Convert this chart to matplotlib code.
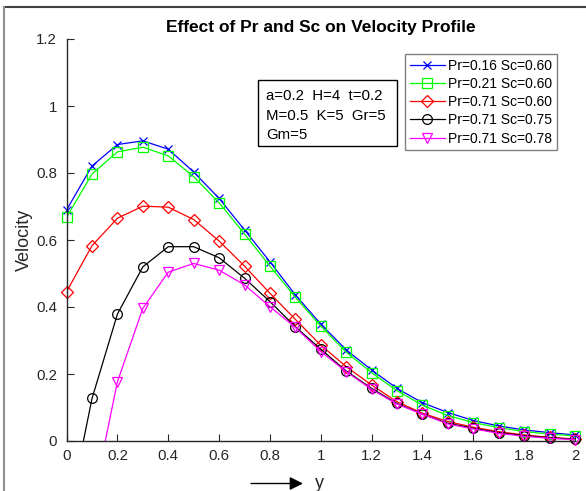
import numpy as np
import matplotlib
matplotlib.use("Agg")
import matplotlib.pyplot as plt
from matplotlib.lines import Line2D
from matplotlib.patches import Rectangle

plt.rcParams['font.family'] = ['Liberation Sans', 'DejaVu Sans']

# podaci ocitani sa slike
y_os = [0.0, 0.1, 0.2, 0.3, 0.4, 0.5, 0.6, 0.7, 0.8, 0.9, 1.0,
        1.1, 1.2, 1.3, 1.4, 1.5, 1.6, 1.7, 1.8, 1.9, 2.0]

v_pr016_sc060 = [0.690, 0.821, 0.885, 0.896, 0.871, 0.803, 0.724, 0.630, 0.535, 0.436, 0.349,
                 0.272, 0.212, 0.157, 0.114, 0.085, 0.061, 0.045, 0.033, 0.025, 0.018]
v_pr021_sc060 = [0.668, 0.797, 0.863, 0.877, 0.851, 0.789, 0.711, 0.618, 0.522, 0.429, 0.343,
                 0.265, 0.204, 0.150, 0.107, 0.076, 0.055, 0.040, 0.028, 0.021, 0.015]
v_pr071_sc060 = [0.446, 0.583, 0.665, 0.701, 0.698, 0.661, 0.597, 0.522, 0.441, 0.363, 0.286,
                 0.222, 0.167, 0.117, 0.083, 0.058, 0.041, 0.028, 0.018, 0.011, 0.006]
v_pr071_sc075 = [-0.247, 0.127, 0.379, 0.520, 0.580, 0.580, 0.547, 0.486, 0.416, 0.341, 0.274,
                 0.209, 0.157, 0.112, 0.080, 0.053, 0.038, 0.025, 0.016, 0.010, 0.005]
v_pr071_sc078 = [-0.55, -0.192, 0.177, 0.396, 0.504, 0.530, 0.510, 0.466, 0.401, 0.339, 0.267,
                 0.207, 0.154, 0.110, 0.080, 0.051, 0.036, 0.023, 0.014, 0.008, 0.004]

oznake = ['Pr=0.16 Sc=0.60', 'Pr=0.21 Sc=0.60', 'Pr=0.71 Sc=0.60',
          'Pr=0.71 Sc=0.75', 'Pr=0.71 Sc=0.78']
serije = [v_pr016_sc060, v_pr021_sc060, v_pr071_sc060, v_pr071_sc075, v_pr071_sc078]
boje = ['#0000ff', '#00ff00', '#ff0000', '#000000', '#ff00ff']
markeri = ['x', 's', 'D', 'o', 'v']
velicine = [6, 6.5, 6.3, 7, 7.5]

x_ticks = [0, 0.2, 0.4, 0.6, 0.8, 1, 1.2, 1.4, 1.6, 1.8, 2]
y_ticks = [0, 0.2, 0.4, 0.6, 0.8, 1, 1.2]

W, H = 586, 491
fig = plt.figure(figsize=(W/100, H/100), dpi=100)
ax = fig.add_axes([66.6/W, (H-441)/H, 508.4/W, 402/H])

x = np.array(y_os)
ruke = []
for v, c, m, s, lab in zip(serije, boje, markeri, velicine, oznake):
    v = np.array(v)
    ax.plot(x, v, '-', color=c, lw=0.9)
    ok = v >= 0
    ax.plot(x[ok], v[ok], ls='none', marker=m, ms=s, mfc='none', mec=c,
            mew=0.9, clip_on=False)
    ruke.append(Line2D([], [], color=c, lw=0.9, marker=m, ms=s, mfc='none',
                       mec=c, mew=0.9, label=lab))

ax.set_xlim(0, 2)
ax.set_ylim(0, 1.2)
ax.set_xticks(x_ticks)
ax.set_xticklabels(['%g' % t for t in x_ticks])
ax.set_yticks(y_ticks)
ax.set_yticklabels(['%g' % t for t in y_ticks])
for s in ['top', 'right']:
    ax.spines[s].set_visible(False)
for s in ['left', 'bottom']:
    ax.spines[s].set_color('#262626')
    ax.spines[s].set_linewidth(1.0)
ax.tick_params(direction='in', length=5, width=0.8, colors='#262626',
               labelsize=10.8, labelcolor='#262626')
ax.tick_params(axis='x', pad=6)
ax.tick_params(axis='y', pad=7)

ax.set_title('Effect of Pr and Sc on Velocity Profile', fontsize=12.5,
             fontweight='bold', pad=5)
ax.set_ylabel('Velocity', fontsize=13, color='#262626')
ax.yaxis.set_label_coords((24 - 66.6)/508.4, 0.5)
ax.yaxis.label.set_va('center')
ax.set_xlabel('y', fontsize=13, color='#262626')
ax.xaxis.set_label_coords((319 - 66.6)/508.4, -(483 - 441)/402)
ax.xaxis.label.set_va('center')

# okvir s parametrima
ax.add_patch(Rectangle((0.3765, 0.7326), 0.2735, 0.1654, transform=ax.transAxes,
                       fill=False, edgecolor='black', lw=1.0))
for ty, txt in zip([0.858, 0.808, 0.760],
                   ['a=0.2  H=4  t=0.2', 'M=0.5  K=5  Gr=5', 'Gm=5']):
    ax.text(0.392, ty, txt, transform=ax.transAxes, fontsize=10.8, va='center')

leg = ax.legend(handles=ruke, loc='upper left', bbox_to_anchor=(0.6656, 0.9627),
                borderaxespad=0, fancybox=False, edgecolor='#808080', framealpha=1,
                fontsize=10, handlelength=2.5, handletextpad=0.25,
                labelspacing=0.3, borderpad=0.35, numpoints=1)
leg.get_frame().set_linewidth(1.0)

# strelica uz oznaku osi
ax.annotate('', xy=(303, H-483.5), xytext=(251, H-483.5), xycoords='figure pixels',
            textcoords='figure pixels',
            arrowprops=dict(arrowstyle='-|>', color='black', lw=1.0,
                            mutation_scale=20, shrinkA=0, shrinkB=0))

# okvir slike
fig.add_artist(Line2D([4/W, 1], [(H-7)/H, (H-7)/H], transform=fig.transFigure,
                      color='#404040', lw=1.5))
fig.add_artist(Line2D([4/W, 4/W], [0, (H-7)/H], transform=fig.transFigure,
                      color='#909090', lw=1.5))

fig.savefig('out.png', dpi=100)
